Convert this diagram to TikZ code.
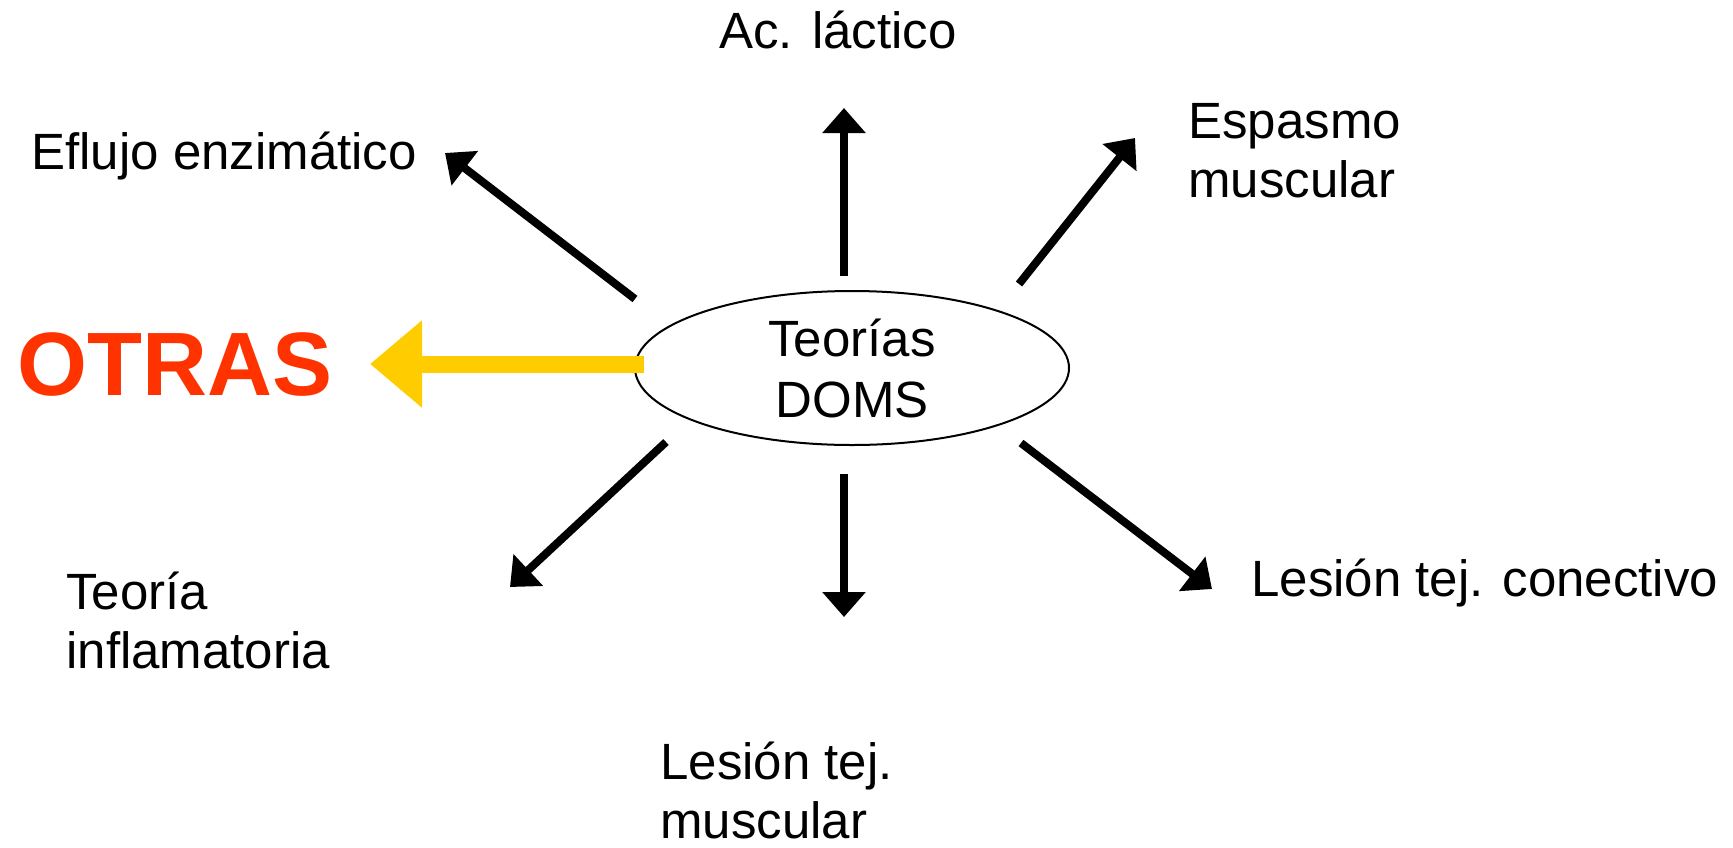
\documentclass[tikz,border=0pt]{standalone}
\usepackage{fontspec}
\setmainfont{Liberation Sans}
\usetikzlibrary{arrows.meta,shapes.geometric}
\definecolor{otrasred}{HTML}{FF3300}
\definecolor{otrasyellow}{HTML}{FFCC00}

\begin{document}
\begin{tikzpicture}[x=0.5pt, y=-0.5pt,
    lbl/.style={inner sep=0pt, anchor=base west, align=left, font=\fontsize{25.5}{29.5}\selectfont},
    arr/.style={line width=4pt, -{Triangle[length=12.5pt, width=21pt]}},
    bigarr/.style={line width=8.5pt, otrasyellow, -{Triangle[length=26pt, width=42pt]}}]
    \useasboundingbox (0,0) rectangle (1733,847);
    \node[ellipse, draw, line width=1pt, minimum width=217pt, minimum height=77pt, inner sep=0pt,
      align=center, font=\fontsize{25.5}{30.5}\selectfont](doms) at (852,368){Teorías\\DOMS};
    \node[lbl, anchor=base](lactico) at (838,48){Ac. láctico};
    \node[lbl](eflujo) at (31,169){Eflujo enzimático};
    \node[lbl](espasmo) at (1188,197){Espasmo\\muscular};
    \node[lbl, text=otrasred, font=\fontsize{45}{54}\selectfont\bfseries](otras) at (17,395){OTRAS};
    \node[lbl](inflam) at (66,668){Teoría\\inflamatoria};
    \node[lbl](conectivo) at (1251,596){Lesión tej. conectivo};
    \node[lbl](muscular) at (660,838){Lesión tej.\\muscular};
    \coordinate (up-a) at (844,276);   \coordinate (up-b) at (844,108);
    \coordinate (ul-a) at (635,299);   \coordinate (ul-b) at (445,153);
    \coordinate (ur-a) at (1019,284);  \coordinate (ur-b) at (1135,138);
    \coordinate (ll-a) at (666,442);   \coordinate (ll-b) at (510,587);
    \coordinate (dn-a) at (844,474);   \coordinate (dn-b) at (844,617);
    \coordinate (lr-a) at (1021,443);  \coordinate (lr-b) at (1212,589);
    \coordinate (ot-a) at (644,364);   \coordinate (ot-b) at (370,364);
    \draw[arr] (up-a) -- (up-b);
    \draw[arr] (ul-a) -- (ul-b);
    \draw[arr] (ur-a) -- (ur-b);
    \draw[arr] (ll-a) -- (ll-b);
    \draw[arr] (dn-a) -- (dn-b);
    \draw[arr] (lr-a) -- (lr-b);
    \draw[bigarr] (ot-a) -- (ot-b);
  \end{tikzpicture}
\end{document}
